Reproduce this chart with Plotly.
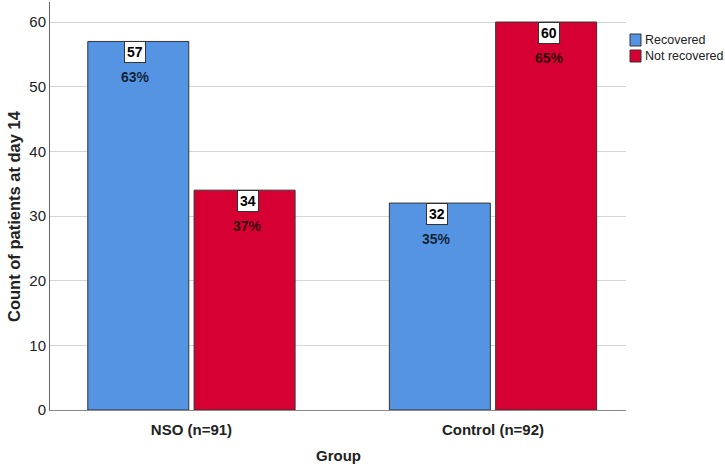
import plotly.graph_objects as go

groups = ["NSO (n=91)", "Control (n=92)"]
series_names = ["Recovered", "Not recovered"]
recovered = [57, 32]
not_recovered = [34, 60]
rec_pct = ["63%", "35%"]
notrec_pct = ["37%", "65%"]

xpos = [0, 1]
blue = "#5594E3"
red = "#D70033"
colors = [blue, red]
FONT = "Liberation Sans, Arial, sans-serif"

L, R, T, B = 50, 99, 2, 56
W, H = 725, 466
PW, PH = W - L - R, H - T - B

def px_x(px):
    return (px - L) / PW

def px_y(py):
    return (H - B - py) / PH

fig = go.Figure()
for name, vals, col in zip(series_names, [recovered, not_recovered], colors):
    fig.add_trace(go.Bar(x=xpos, y=vals, name=name, showlegend=False,
                         marker=dict(color=col, line=dict(color="#333333", width=1))))

offsets = [-0.186, 0.186]
for series, pcts, off in [(recovered, rec_pct, offsets[0]), (not_recovered, notrec_pct, offsets[1])]:
    for xi, v, p in zip(xpos, series, pcts):
        fig.add_annotation(x=xi + off, y=v, text=f"<b>{v}</b>", showarrow=False,
                           yanchor="top", bgcolor="white",
                           bordercolor="#333", borderwidth=1, borderpad=2,
                           font=dict(family=FONT, size=14, color="black"))
        fig.add_annotation(x=xi + off, y=v, text=f"<b>{p}</b>", showarrow=False,
                           yanchor="middle", yshift=-36,
                           font=dict(family=FONT, size=14, color="rgba(0,0,0,0.78)"))

# manual legend (matches reference's compact boxes)
for i, (name, col) in enumerate(zip(series_names, colors)):
    y0 = 34 + i * 16
    fig.add_shape(type="rect", xref="paper", yref="paper",
                  x0=px_x(630), x1=px_x(641), y0=px_y(y0 + 12), y1=px_y(y0),
                  fillcolor=col, line=dict(color="#333", width=1))
    fig.add_annotation(xref="paper", yref="paper", x=px_x(643), y=px_y(y0 + 6),
                       xanchor="left", yanchor="middle", showarrow=False,
                       text=name, font=dict(family=FONT, size=12.5, color="#222"))

# axis titles
fig.add_annotation(xref="paper", yref="paper", x=px_x(14), y=px_y(216), textangle=-90,
                   xanchor="center", yanchor="middle", showarrow=False,
                   text="<b>Count of patients at day 14</b>",
                   font=dict(family=FONT, size=16.5, color="#222"))
fig.add_annotation(xref="paper", yref="paper", x=px_x(338), y=px_y(455),
                   xanchor="center", yanchor="middle", showarrow=False,
                   text="<b>Group</b>", font=dict(family=FONT, size=15, color="#222"))

fig.update_layout(
    width=W, height=H,
    margin=dict(l=L, r=R, t=T, b=B, autoexpand=False),
    plot_bgcolor="white", paper_bgcolor="white",
    barmode="group", bargap=0.295, bargroupgap=0.05,
    font=dict(family=FONT, size=14, color="#222"),
    showlegend=False,
    xaxis=dict(range=[-0.469, 1.441], tickvals=xpos, ticktext=[f"<b>{g}</b>" for g in groups],
               showline=True, linecolor="#888", linewidth=1, showgrid=False, zeroline=False,
               ticks="", tickfont=dict(size=15, color="#222"), automargin=False,
               ticklabelstandoff=6),
    yaxis=dict(range=[0, 63.1], tickvals=[0, 10, 20, 30, 40, 50, 60],
               showline=True, linecolor="#666", linewidth=1,
               showgrid=True, gridcolor="#d4d4d4", gridwidth=1, zeroline=False,
               ticks="", tickfont=dict(size=15, color="#222"), automargin=False),
)

fig.write_html("out.html", config={"displayModeBar": False},
               post_script="document.body.style.margin='0';")
